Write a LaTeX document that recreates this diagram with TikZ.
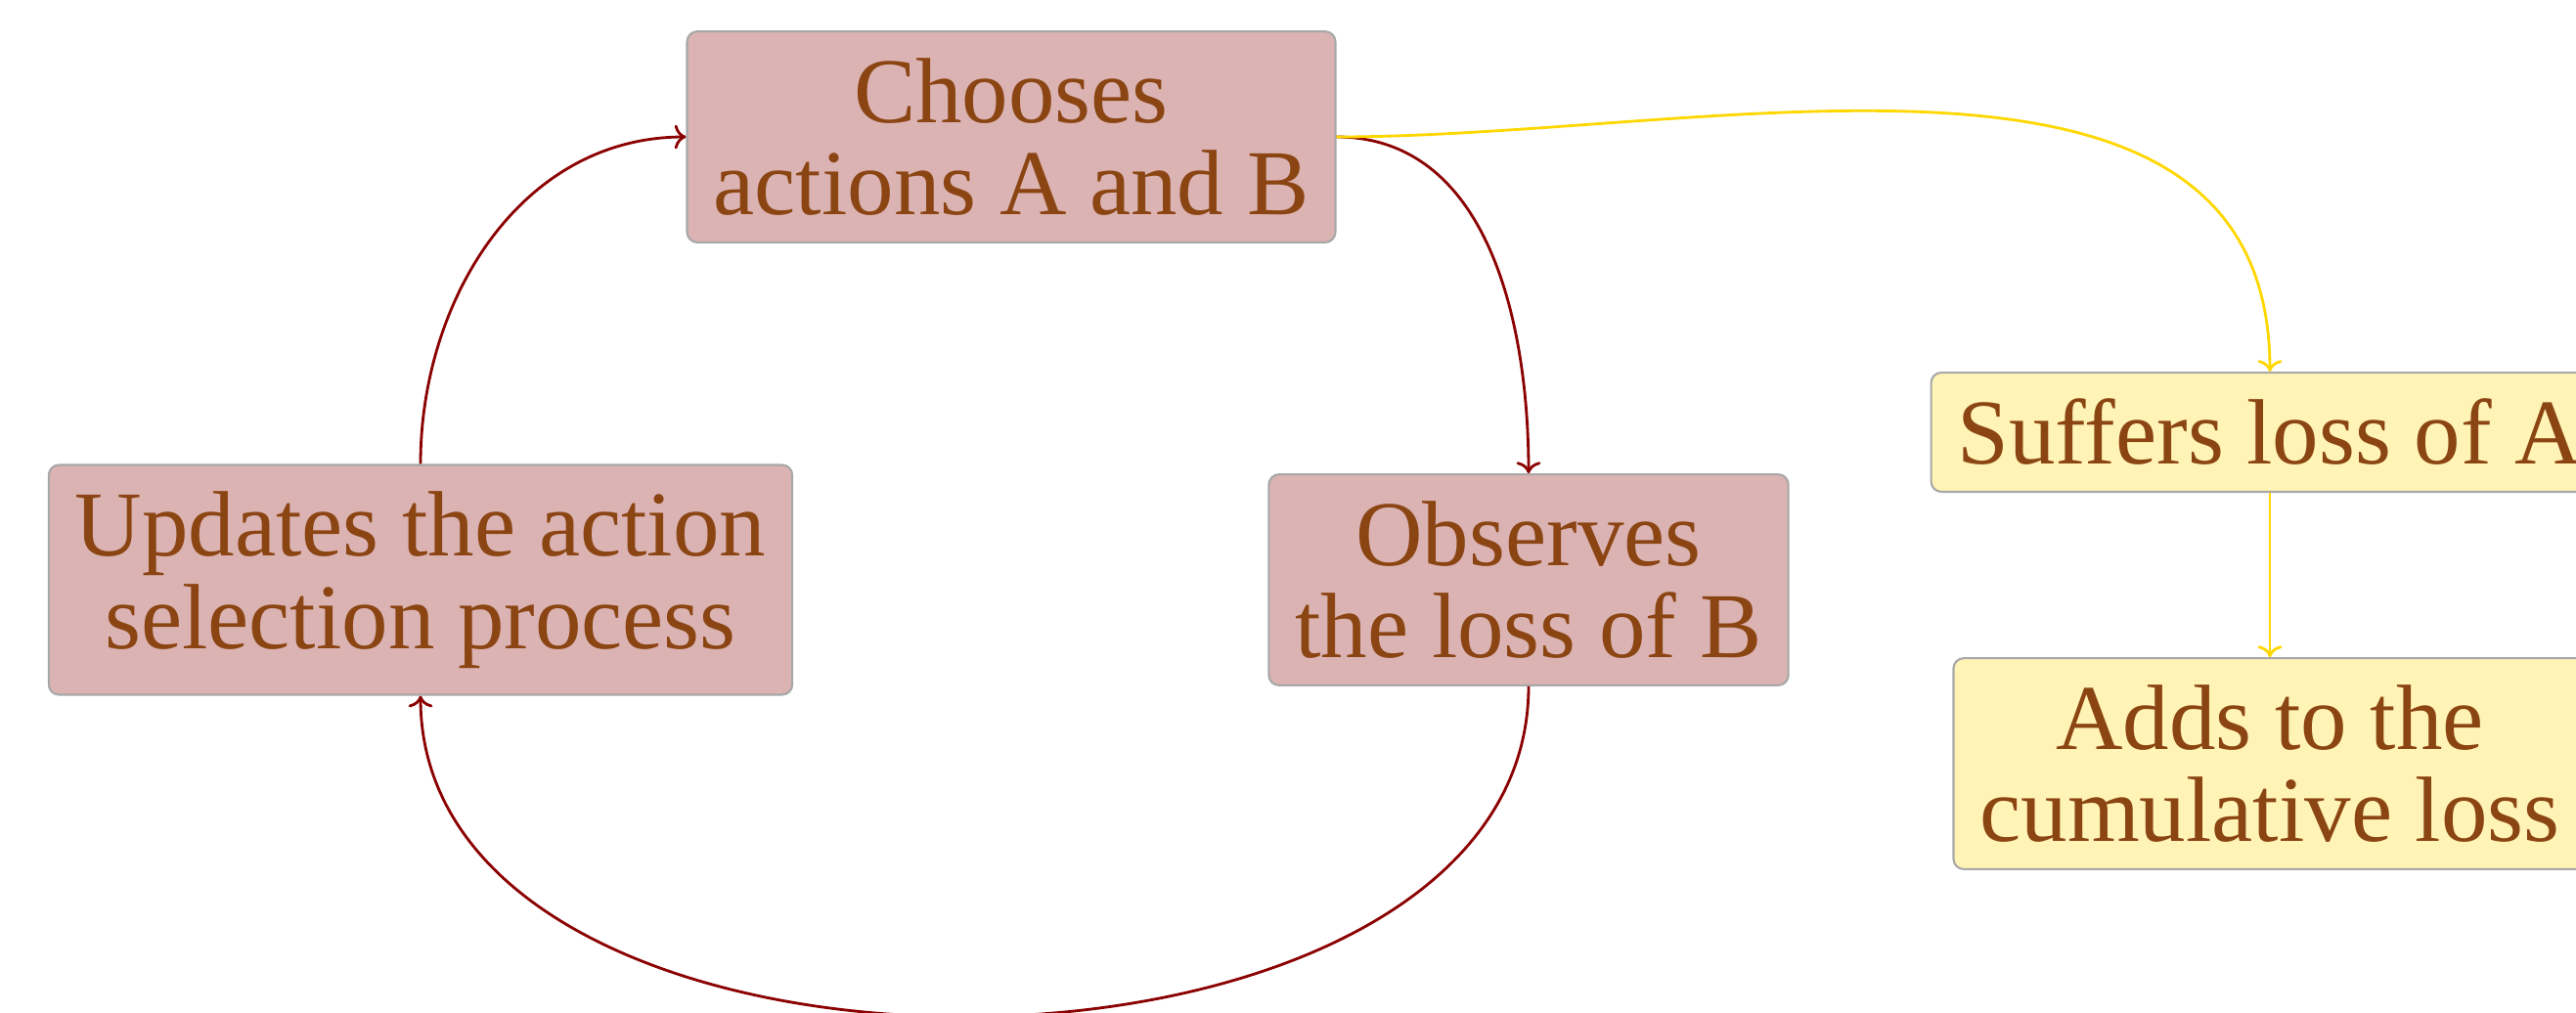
\documentclass[tikz,border=0pt]{standalone}
\usepackage{fontspec}
\setmainfont{Liberation Serif}
\definecolor{rosefill}{RGB}{219,179,179}
\definecolor{lemonfill}{RGB}{255,243,181}
\definecolor{boxline}{RGB}{168,168,168}
\definecolor{inktext}{RGB}{139,69,19}
\definecolor{loopred}{RGB}{139,0,0}
\definecolor{goldline}{RGB}{255,215,0}
\usetikzlibrary{arrows.meta}

\begin{document}
\begin{tikzpicture}[
    stage/.style={draw=boxline,line width=0.6pt,rounded corners=3pt,inner sep=7.7pt,
      align=center,text=inktext,font=\fontsize{27}{27}\selectfont},
    loopstage/.style={stage,fill=rosefill},
    lossstage/.style={stage,fill=lemonfill},
    loopflow/.style={->,loopred,line width=0.8pt},
    lossflow/.style={->,goldline,line width=0.8pt}]
        \useasboundingbox (0,0) rectangle (26.34,-10.35);
        % learner loop
        \node[loopstage] (choose)  at (10.34,-1.40) {Chooses\\actions A and B};
        \node[loopstage] (observe) at (15.63,-5.93) {Observes\\the loss of B};
        \node[loopstage] (update)  at (4.30,-5.93)  {Updates the action\\selection process};
        % environment side
        \node[lossstage] (suffer)  at (23.21,-4.42) {Suffers loss of A};
        \node[lossstage] (adds)    at (23.21,-7.81) {Adds to the\\cumulative loss};
        \draw[loopflow] (choose.east) to[out=0,in=90] (observe.north);
        \draw[loopflow] (observe.south) to[out=-90,in=-90] (update.south);
        \draw[loopflow] (update.north) to[out=90,in=180] (choose.west);
        \draw[lossflow] (choose.east) to[out=0,in=90] (suffer.north);
        \draw[lossflow] (suffer.south) -- (adds.north);
      \end{tikzpicture}
\end{document}
